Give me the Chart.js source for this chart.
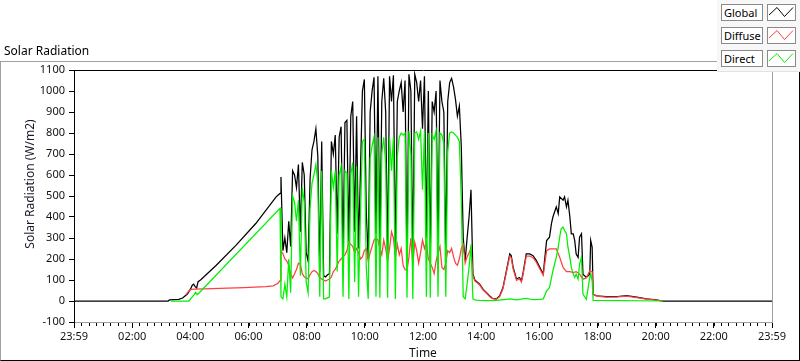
<!DOCTYPE html>
<html>
<head>
<meta charset="utf-8">
<script src="https://cdn.jsdelivr.net/npm/chart.js@4.4.1/dist/chart.umd.min.js"></script>
<style>
  body { margin: 0; background: #fff; font-family: "Noto Sans", sans-serif; }
  #wrap { position: relative; width: 800px; height: 361px; overflow: hidden; }
  #frame { position: absolute; left: 0; top: 61px; width: 800px; height: 300px; box-sizing: border-box;
    border-top: 1px solid #a0a0a0; border-left: 1px solid #a0a0a0; border-right: 1px solid #000; border-bottom: 1px solid #000; }
  #chartTitle { position: absolute; left: 4px; top: 42px; font-size: 12px; color: #000; white-space: nowrap; }
  #cv { position: absolute; left: 0; top: 0; }
  #legend { position: absolute; left: 717px; top: 0; width: 83px; height: 72px; background: #f7f7f7;
    border-bottom: 1px solid #e2e2e2; box-sizing: border-box; }
  .lbl { position: absolute; left: 4px; width: 42px; height: 17px; box-sizing: border-box; background: #fff;
    border: 1px solid #8a8a8a; font-size: 11px; line-height: 15px; padding-left: 2px; color: #000;
    white-space: nowrap; overflow: hidden; }
  .sw { position: absolute; left: 50px; width: 29px; height: 17px; box-sizing: border-box; background: #fff;
    border: 1px solid #8a8a8a; }
  .sw svg { position: absolute; left: 0; top: 0; }
</style>
</head>
<body>
<div id="wrap">
  <canvas id="cv" width="800" height="361"></canvas>
  <div id="frame"></div>
  <div id="chartTitle">Solar Radiation</div>
  <div id="legend"></div>
</div>
<script>
// time in minutes after midnight, values in W/m2
const seriesNames = ["Global", "Diffuse", "Direct"];
const seriesColors = ["#000000", "#ff4040", "#00f000"];
const timeLabels = ["23:59", "02:00", "04:00", "06:00", "08:00", "10:00", "12:00",
  "14:00", "16:00", "18:00", "20:00", "22:00", "23:59"];
const yTitle = "Solar Radiation (W/m2)";

// before 07:04
const globalDawnTimes = [-1, 193, 196, 215, 223, 233, 240, 243, 246, 249, 252, 255, 260, 292, 333, 374, 416, 424];
const globalDawn = [0, 0, 5, 8, 14, 33, 60, 75, 80, 68, 62, 92, 100, 169, 265, 369, 496, 512];
const diffuseDawnTimes = [230, 236, 240, 250, 300, 350, 395, 410, 416, 420, 424];
const diffuseDawn = [30, 48, 55, 56, 60, 64, 68, 72, 80, 85, 97];
const directDawnTimes = [199, 236, 243, 247, 250, 253, 257, 424];
const directDawn = [0, 0, 20, 30, 41, 30, 38, 441];

// 07:06 - 13:50, one reading every 4 minutes
const dayStart = 426;
const dayStep = 4;
const dayGlobal = [590, 240, 300, 230, 380, 260, 620, 600, 540, 650,
  330, 660, 600, 230, 190, 580, 720, 760, 820, 690,
  140, 760, 120, 115, 125, 130, 760, 700, 790, 320,
  780, 830, 230, 850, 860, 280, 880, 950, 330, 880,
  250, 620, 1000, 1055, 420, 200, 900, 1000, 1065, 320,
  1070, 260, 950, 1060, 900, 200, 1070, 950, 1075, 220,
  950, 1000, 1040, 900, 1050, 160, 1080, 1000, 180, 1080,
  1040, 950, 1050, 820, 1070, 300, 1000, 200, 950, 900,
  1000, 250, 1050, 950, 900, 200, 950, 1040, 1060, 1020,
  960, 880, 928, 736, 300, 192, 300, 400, 530, 128,
  100, 92];
const dayDiffuse = [240, 225, 200, 190, 170, 130, 110, 130, 150, 180,
  175, 130, 115, 110, 105, 125, 140, 145, 140, 130,
  110, 105, 100, 95, 100, 105, 115, 140, 150, 170,
  190, 200, 210, 220, 240, 280, 270, 260, 230, 250,
  230, 200, 210, 240, 250, 190, 230, 260, 290, 300,
  290, 250, 220, 290, 250, 190, 250, 330, 300, 210,
  270, 220, 250, 170, 150, 145, 210, 300, 170, 280,
  240, 180, 230, 290, 250, 280, 200, 180, 160, 130,
  190, 230, 260, 160, 150, 180, 240, 230, 250, 210,
  180, 170, 200, 250, 270, 180, 210, 230, 250, 120,
  95, 88];
const dayDirect = [20, 10, 80, 20, 200, 40, 500, 470, 380, 480,
  120, 540, 470, 90, 40, 440, 560, 600, 650, 560,
  20, 620, 10, 10, 15, 20, 620, 540, 620, 140,
  600, 640, 20, 620, 610, 10, 600, 660, 90, 640,
  20, 420, 760, 770, 160, 10, 680, 740, 780, 20,
  780, 15, 700, 780, 650, 15, 780, 620, 780, 10,
  690, 780, 800, 790, 800, 15, 810, 700, 10, 800,
  805, 770, 810, 530, 810, 20, 800, 15, 790, 770,
  810, 20, 800, 790, 750, 20, 710, 800, 805, 800,
  790, 780, 760, 480, 20, 10, 80, 160, 270, 10,
  5, 4];

// afternoon and night
const globalDuskTimes = [836, 843, 850, 856, 862, 870, 877, 884, 891, 898,
  901, 905, 912, 918, 922, 925, 932, 939, 946, 953,
  960, 967, 974, 980, 984, 987, 994, 998, 1001, 1008,
  1011, 1015, 1018, 1022, 1025, 1029, 1032, 1035, 1039, 1042,
  1046, 1049, 1056, 1063, 1065, 1068, 1070, 1077, 1097, 1120,
  1139, 1160, 1180, 1200, 1214, 1439];
const globalDusk = [80, 55, 40, 25, 13, 10, 24, 64, 144, 224,
  216, 160, 104, 112, 96, 128, 224, 224, 216, 192,
  160, 128, 288, 304, 368, 400, 448, 416, 496, 480,
  496, 448, 480, 400, 320, 320, 288, 224, 208, 304,
  320, 128, 112, 128, 288, 256, 32, 25, 21, 21,
  25, 18, 10, 5, 0, 0];
const diffuseDuskTimes = [836, 843, 850, 856, 862, 870, 877, 884, 891, 898,
  901, 905, 912, 918, 922, 925, 932, 939, 946, 953,
  960, 967, 974, 980, 987, 994, 1001, 1008, 1015, 1022,
  1029, 1035, 1042, 1049, 1056, 1063, 1068, 1070, 1077, 1097,
  1120, 1139, 1160, 1180, 1200, 1214];
const diffuseDusk = [76, 52, 37, 22, 11, 8, 20, 58, 136, 214,
  206, 152, 98, 106, 90, 120, 214, 214, 206, 184,
  152, 122, 240, 248, 248, 248, 208, 160, 140, 140,
  135, 140, 128, 104, 110, 144, 140, 32, 23, 19,
  20, 23, 16, 9, 4, 0];
const directDuskTimes = [836, 850, 870, 891, 898, 912, 932, 946, 960, 967,
  974, 980, 987, 994, 998, 1001, 1004, 1008, 1011, 1015,
  1018, 1022, 1025, 1029, 1032, 1035, 1039, 1042, 1046, 1049,
  1056, 1063, 1065, 1068, 1070, 1214];
const directDusk = [3, 2, 3, 8, 10, 5, 12, 6, 8, 10,
  48, 64, 144, 208, 256, 304, 344, 352, 336, 320,
  256, 208, 160, 128, 112, 128, 104, 176, 208, 32,
  8, 112, 128, 96, 3, 0];

function toPoints(times, values) {
  return times.map((t, i) => ({ x: t, y: values[i] }));
}
function dayPoints(values) {
  return values.map((v, i) => ({ x: dayStart + i * dayStep, y: v }));
}

const globalData = [...toPoints(globalDawnTimes, globalDawn), ...dayPoints(dayGlobal), ...toPoints(globalDuskTimes, globalDusk)];
const diffuseData = [...toPoints(diffuseDawnTimes, diffuseDawn), ...dayPoints(dayDiffuse), ...toPoints(diffuseDuskTimes, diffuseDusk)];
const directData = [...toPoints(directDawnTimes, directDawn), ...dayPoints(dayDirect), ...toPoints(directDuskTimes, directDusk)];

// legend boxes
const legend = document.getElementById("legend");
seriesNames.forEach((name, i) => {
  const top = 4 + i * 23;
  legend.insertAdjacentHTML("beforeend",
    '<div class="lbl" style="top:' + top + 'px">' + name + '</div>' +
    '<div class="sw" style="top:' + top + 'px"><svg width="27" height="15">' +
    '<polyline points="1,10 9,2.5 16.5,11.5 25,2.5" fill="none" stroke="' + seriesColors[i] + '" stroke-width="1"/></svg></div>');
});

const majorTicks = timeLabels.map((_, i) => (i === timeLabels.length - 1 ? 1439 : -1 + i * 120));

const plotFrame = {
  id: "plotFrame",
  afterDraw(chart) {
    const { ctx, chartArea: a } = chart;
    const xs = chart.scales.x;
    ctx.save();
    ctx.lineWidth = 1;
    ctx.strokeStyle = "#000";
    ctx.beginPath();
    ctx.moveTo(a.left, a.top + 0.5);
    ctx.lineTo(a.right + 1, a.top + 0.5);
    ctx.stroke();
    ctx.strokeStyle = "#a0a0a0";
    ctx.beginPath();
    ctx.moveTo(a.right + 0.5, a.top + 1);
    ctx.lineTo(a.right + 0.5, a.bottom);
    ctx.stroke();
    // minor ticks every 15 minutes
    ctx.strokeStyle = "#000";
    ctx.beginPath();
    for (let m = -1; m <= 1439; m += 15) {
      const px = Math.round(xs.getPixelForValue(m)) + 0.5;
      ctx.moveTo(px, a.bottom + 1);
      ctx.lineTo(px, a.bottom + 4);
    }
    ctx.stroke();
    // y axis title
    ctx.translate(31, 184);
    ctx.rotate(-Math.PI / 2);
    ctx.font = '12px "Noto Sans"';
    ctx.fillStyle = "#1a1a2a";
    ctx.textAlign = "center";
    ctx.textBaseline = "middle";
    ctx.fillText(yTitle, 0, 0);
    ctx.restore();
  }
};

const makeSet = (i, data, order) => ({
  label: seriesNames[i],
  data: data,
  borderColor: seriesColors[i],
  borderWidth: 1.25,
  pointRadius: 0,
  tension: 0,
  fill: false,
  order: order,
});

new Chart(document.getElementById("cv"), {
  type: "line",
  data: {
    datasets: [makeSet(0, globalData, 3), makeSet(1, diffuseData, 2), makeSet(2, directData, 1)],
  },
  plugins: [plotFrame],
  options: {
    responsive: false,
    animation: false,
    events: [],
    layout: { padding: { top: 70, right: 28, left: 0, bottom: 0 } },
    plugins: { legend: { display: false }, tooltip: { enabled: false } },
    scales: {
      x: {
        type: "linear",
        min: -1,
        max: 1439,
        afterFit: (s) => { s.height = 39; },
        afterBuildTicks: (s) => { s.ticks = majorTicks.map((v) => ({ value: v })); },
        ticks: {
          autoSkip: false,
          maxRotation: 0,
          minRotation: 0,
          padding: 2,
          color: "#111",
          font: { family: "Noto Sans", size: 11 },
          callback: (v, i) => timeLabels[i],
        },
        grid: { display: true, drawOnChartArea: false, drawTicks: true, tickLength: 6, tickColor: "#000" },
        border: { display: true, color: "#a0a0a0", width: 1 },
        title: { display: true, text: "Time", color: "#111", font: { family: "Noto Sans", size: 12 }, padding: { top: 0, bottom: 0 } },
      },
      y: {
        min: -100,
        max: 1100,
        afterFit: (s) => { s.width = 74; },
        ticks: { stepSize: 100, padding: 4, color: "#111", font: { family: "Noto Sans", size: 11 },
          callback: (v) => String(v) },
        grid: { display: true, drawOnChartArea: false, drawTicks: true, tickLength: 5, tickColor: "#000" },
        border: { display: true, color: "#000", width: 1 },
      },
    },
  },
});
</script>
</body>
</html>
